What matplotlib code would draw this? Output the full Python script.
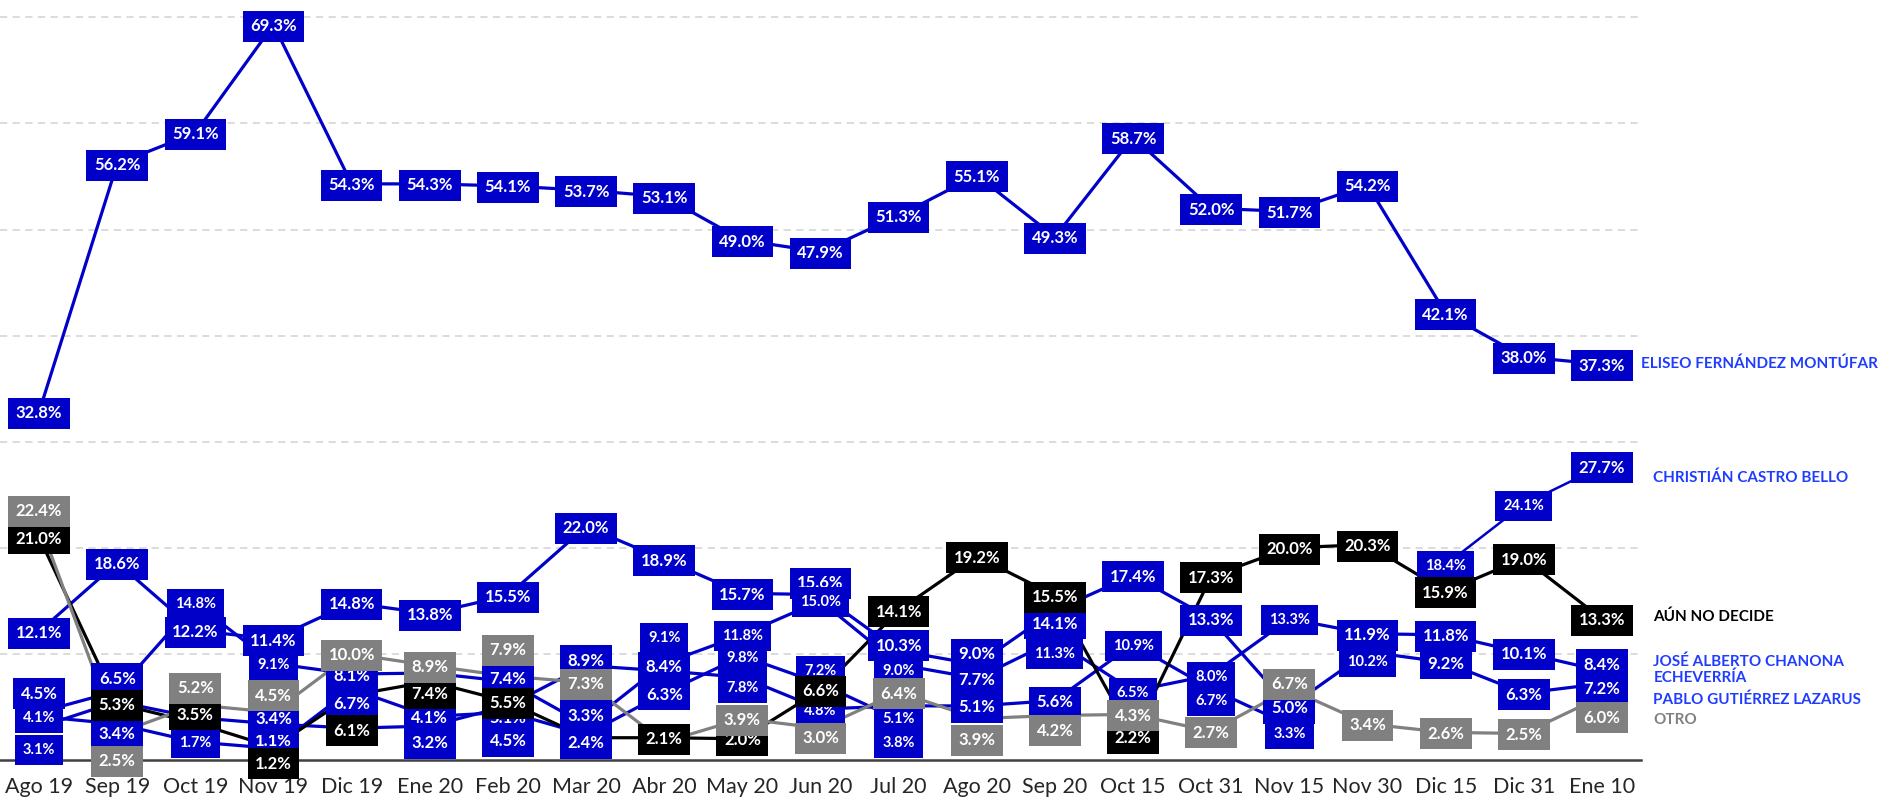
"""Encuesta Tuxtla: preferencia por candidato, Ago 19 - Ene 10."""

import numpy as np
import matplotlib
matplotlib.use("Agg")
import matplotlib.pyplot as plt

plt.rcParams["font.family"] = ["Lato", "DejaVu Sans"]

N = None

# ── Data ───────────────────────────────────────────────────────────
months = ["Ago 19", "Sep 19", "Oct 19", "Nov 19", "Dic 19", "Ene 20", "Feb 20",
          "Mar 20", "Abr 20", "May 20", "Jun 20", "Jul 20", "Ago 20", "Sep 20",
          "Oct 15", "Oct 31", "Nov 15", "Nov 30", "Dic 15", "Dic 31", "Ene 10"]

eliseo = [32.8, 56.2, 59.1, 69.3, 54.3, 54.3, 54.1, 53.7, 53.1, 49.0, 47.9,
          51.3, 55.1, 49.3, 58.7, 52.0, 51.7, 54.2, 42.1, 38.0, 37.3]
castro = [N, N, N, N, N, N, N, N, N, N, N,
          N, N, N, N, N, N, N, 18.4, 24.1, 27.7]
pablo = [12.1, 18.6, 12.2, 11.4, 14.8, 13.8, 15.5, 22.0, 18.9, 15.7, 15.6,
         10.3, 9.0, 14.1, 17.4, 13.3, 5.0, 10.2, 9.2, 6.3, 7.2]
chanona = [4.5, 6.5, 14.8, 9.1, 8.1, 8.2, 7.4, 3.3, 9.1, 11.8, 15.0,
           9.0, 7.7, 11.3, 6.5, 8.0, 13.3, 11.9, 11.8, 10.1, 8.4]
otro_cand1 = [3.1, 5.5, 4.0, 3.4, 3.0, 3.2, 5.1, 8.9, 8.4, 7.8, 4.8,
              5.1, 5.1, 5.6, 10.9, 6.7, 3.3, N, N, N, N]
otro_cand2 = [4.1, 3.4, 1.7, 1.1, 6.7, 4.1, 4.5, 2.4, 6.3, 9.8, 7.2,
              3.8, N, N, N, N, N, N, N, N, N]
no_decide = [21.0, 5.3, 3.5, 1.2, 6.1, 7.4, 5.5, 2.1, 2.1, 2.0, 6.6,
             14.1, 19.2, 15.5, 2.2, 17.3, 20.0, 20.3, 15.9, 19.0, 13.3]
otro = [22.4, 2.5, 5.2, 4.5, 10.0, 8.9, 7.9, 7.3, 1.7, 3.9, 3.0,
        6.4, 3.9, 4.2, 4.3, 2.7, 6.7, 3.4, 2.6, 2.5, 6.0]

# ── Styling ────────────────────────────────────────────────────────
BLUE = "#0000C8"
NAME_BLUE = "#1F3CFF"
GRAY = "#808080"
BLACK = "#000000"

# (key, values, colour, line width, label zorder) - later entries on top
series = [
    ("cand2", otro_cand2, BLUE, 2.3, 5),
    ("cand1", otro_cand1, BLUE, 2.3, 5),
    ("pablo", pablo, BLUE, 2.3, 5),
    ("chanona", chanona, BLUE, 2.3, 5),
    ("castro", castro, BLUE, 1.8, 5),
    ("eliseo", eliseo, BLUE, 2.3, 5),
    ("aun", no_decide, BLACK, 2.3, 6),
    ("otro", otro, GRAY, 2.3, 7),
]

# labels hidden behind other boxes in the original
hidden = {("chanona", 5), ("cand1", 1), ("cand1", 2), ("cand1", 4),
          ("aun", 7), ("otro", 8)}

# labels drawn in a smaller font in the original
small = {("cand2", 0), ("cand1", 0), ("chanona", 2), ("cand2", 2),
         ("chanona", 3), ("chanona", 8), ("chanona", 9), ("cand2", 9),
         ("cand1", 9), ("chanona", 10), ("cand2", 10), ("cand1", 10),
         ("chanona", 11), ("cand1", 11), ("cand2", 11), ("chanona", 13),
         ("cand1", 14), ("chanona", 14), ("chanona", 15), ("cand1", 15),
         ("chanona", 16), ("cand1", 16), ("pablo", 17), ("castro", 18),
         ("castro", 19)}

# label nudges (in percentage points) where boxes were moved off the point
shift = {
    ("pablo", 10): 1.2, ("pablo", 11): 0.6, ("pablo", 12): 1.1,
    ("pablo", 13): -1.1, ("pablo", 17): -0.8, ("pablo", 20): -0.4,
    ("chanona", 0): 1.9, ("chanona", 1): 1.3, ("chanona", 6): 0.4,
    ("chanona", 7): 1.0, ("chanona", 8): 2.5, ("chanona", 11): -0.5,
    ("chanona", 13): -1.2, ("chanona", 20): 0.7,
    ("cand1", 0): -2.0, ("cand1", 3): 0.6, ("cand1", 5): -1.5,
    ("cand1", 6): -1.0, ("cand1", 7): 0.6, ("cand1", 8): 0.5,
    ("cand1", 9): -0.9, ("cand1", 11): -1.1, ("cand1", 15): -1.0,
    ("cand1", 16): -0.7,
    ("cand2", 1): -0.8, ("cand2", 3): 0.8, ("cand2", 4): -1.3,
    ("cand2", 6): -2.6, ("cand2", 7): -0.7, ("cand2", 10): 1.3,
    ("cand2", 11): -2.1,
    ("aun", 2): 0.9, ("aun", 3): -1.4, ("aun", 4): -3.2, ("aun", 5): -1.0,
    ("otro", 0): 1.2, ("otro", 1): -2.5, ("otro", 2): 1.7, ("otro", 3): 1.7,
    ("otro", 6): 2.6, ("otro", 10): -0.8, ("otro", 12): -1.9,
    ("otro", 13): -1.3, ("otro", 16): 0.6, ("otro", 20): -1.9,
}

# name tags at the right end: (text, values, colour, y nudge, x offset pt)
names = [
    ("ELISEO FERNÁNDEZ MONTÚFAR", eliseo, NAME_BLUE, 0.0, 28),
    ("CHRISTIÁN CASTRO BELLO", castro, NAME_BLUE, -1.1, 37),
    ("AÚN NO DECIDE", no_decide, BLACK, 0.2, 37),
    ("JOSÉ ALBERTO CHANONA\nECHEVERRÍA", chanona, NAME_BLUE, 0.1, 37),
    ("PABLO GUTIÉRREZ LAZARUS", pablo, NAME_BLUE, -1.5, 37),
    ("OTRO", otro, GRAY, -2.2, 37),
]

# ── Figure ─────────────────────────────────────────────────────────
W, H = 1888, 801
fig = plt.figure(figsize=(W / 100, H / 100), dpi=100)
px_per_pt = 10.61
ymax = 71
ax = fig.add_axes([0, 41 / H, 1641 / W, ymax * px_per_pt / H])

x = np.arange(len(months))
for key, vals, color, lw, zl in series:
    y = np.array([np.nan if v is None else v for v in vals], dtype=float)
    ax.plot(x, y, color=color, lw=lw, solid_joinstyle="round", zorder=3)
    for i, v in enumerate(vals):
        if v is None or (key, i) in hidden:
            continue
        fs, pad = (10.5, 0.55) if (key, i) in small else (12, 0.45)
        ax.text(i, v + shift.get((key, i), 0.0), f"{v:.1f}%",
                ha="center", va="center_baseline", color="white",
                fontsize=fs, fontweight="bold", zorder=zl,
                bbox=dict(boxstyle=f"square,pad={pad}", fc=color, ec="none"))

for text, vals, color, dy, dx in names:
    ax.annotate(text, (x[-1], vals[-1] + dy), xytext=(dx, 0),
                textcoords="offset points", ha="left", va="center",
                color=color, fontsize=11, fontweight="bold",
                linespacing=1.1, annotation_clip=False)

ax.set_xlim(-0.5, len(months) - 0.5)
ax.set_ylim(0, ymax)
ax.set_yticks(range(10, 71, 10))
ax.set_yticklabels([])
ax.yaxis.grid(True, color="#D9D9D9", lw=1.3, ls=(0, (4, 3)))
ax.set_axisbelow(True)
ax.set_xticks(x)
ax.set_xticklabels(months, fontsize=15.5, color="#262626")
ax.tick_params(axis="both", length=0)
ax.tick_params(axis="x", pad=12)
for side in ("top", "left", "right"):
    ax.spines[side].set_visible(False)
ax.spines["bottom"].set_color("#404040")
ax.spines["bottom"].set_linewidth(1.8)

fig.savefig("out.png", dpi=100)
